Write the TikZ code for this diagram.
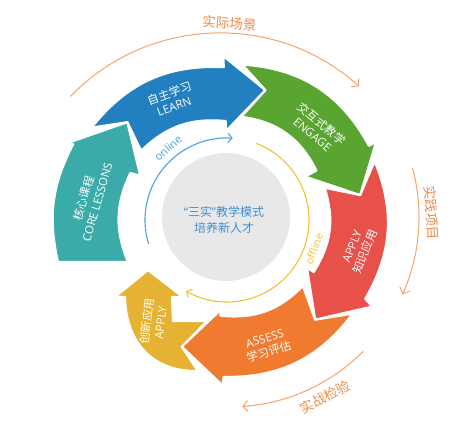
\documentclass[tikz,border=0pt]{standalone}
\usepackage{fontspec}
\setmainfont{Noto Sans CJK SC}
\newfontfamily\latinfont{Open Sans}
\usetikzlibrary{arrows.meta}

\definecolor{coreteal}{HTML}{3AABA8}
\definecolor{learnblue}{HTML}{2380C0}
\definecolor{engagegreen}{HTML}{5AA532}
\definecolor{applyred}{HTML}{E8504A}
\definecolor{assessorange}{HTML}{F07B30}
\definecolor{applyyellow}{HTML}{E5B233}
\definecolor{hubgray}{HTML}{E8E8E8}
\definecolor{hubblue}{HTML}{3D8FD4}
\definecolor{scenearc}{HTML}{F4A46E}
\definecolor{scenetext}{HTML}{EE8A4A}
\definecolor{onlineblue}{HTML}{4AA3DF}
\definecolor{offlineyellow}{HTML}{F2C232}

\begin{document}
\begin{tikzpicture}[x=1pt,y=1pt,
        seg/.style={draw=white,line width=2.2pt,line join=round},
        segtext/.style={text=white,align=center,font=\fontsize{11.5}{14}\selectfont},
        ringarc/.style={line width=1.1pt,-{Straight Barb[length=4pt,width=9pt]}},
        outerarc/.style={scenearc,line width=1pt,-{Straight Barb[length=5pt,width=11pt]}},
        outertext/.style={text=scenetext,font=\fontsize{13.5}{16}\selectfont}]
    \useasboundingbox (-229,-204) rectangle (247,217);

    % ring, each head laid over the next tail
    \filldraw[fill=applyyellow,seg] (-104,-80) .. controls (-103,-127) and (-75,-155) .. (-31,-154)
        -- (-47,-130) -- (-22,-104) -- (-56,-104) -- (-57,-80) -- (-46,-80) -- (-81,-53) -- (-114,-80) -- cycle;
    \filldraw[fill=assessorange,seg] (-38:157) to[bend left=27] (-92:160) -- (-92:169) -- (-110:138)
        -- (-95:93) -- (-95:99) to[bend right=26] (-43:101) -- (-50:134) -- cycle;
    \filldraw[fill=applyred,seg] (21:156) to[bend left=26] (-31:159) -- (-32:169) -- (-50:134)
        -- (-33:93) -- (-33:101) to[bend right=25] (17:100) -- (9.5:133) -- cycle;
    \filldraw[fill=engagegreen,seg] (85:153) to[bend left=29] (27:157) -- (27:165) -- (9.5:133)
        -- (28:86) -- (28:99) to[bend right=28] (83:101) -- (74:132) -- cycle;
    \filldraw[fill=learnblue,seg] (147:164) to[bend left=27] (92:150) -- (92:161) -- (74:132)
        -- (92:86) -- (92:96) to[bend right=25] (143:110) -- (137:139) -- cycle;
    \filldraw[fill=coreteal,seg] (-171,-45) to[bend left=20] (155:172) -- (155.5:178) -- (137:139)
        -- (155:98) -- (156:108) to[bend right=24] (-101,-45) -- cycle;

    \node[segtext,rotate=20] (learn) at (116:131) {自主学习\\{\latinfont LEARN}};
    \node[segtext,rotate=-40] (engage) at (45:125) {交互式教学\\{\latinfont ENGAGE}};
    \node[segtext,rotate=68] (applyk) at (-14:134) {{\latinfont APPLY}\\知识应用};
    \node[segtext,rotate=17] (assess) at (-73.5:134) {{\latinfont ASSESS}\\学习评估};
    \node[segtext,rotate=83] (applyc) at (-76,-105) {创新应用\\{\latinfont APPLY}};
    \node[segtext,rotate=74] (core) at (173:140) {核心课程\\{\latinfont CORE LESSONS}};

    % centre
    \fill[hubgray] (-3,0) circle[radius=64];
    \node[text=hubblue,align=center,font=\fontsize{12}{16}\selectfont] (hub) at (-5,-3)
        {{\latinfont “}三实{\latinfont ”}教学模式\\培养新人才};

    \draw[ringarc,onlineblue] (-2,-3) ++(197:82) arc[start angle=197,end angle=86,radius=82];
    \draw[ringarc,offlineyellow] (-2,-3) ++(69:82) arc[start angle=69,end angle=-120,radius=82];
    \node[text=onlineblue,rotate=41,font=\latinfont\fontsize{11}{13}\selectfont] (online) at (-61,69) {online};
    \node[text=offlineyellow,rotate=70,font=\latinfont\fontsize{11}{13}\selectfont] (offline) at (85,-32) {offline};

    % outer arcs
    \draw[outerarc] (-9,-24) ++(136:208) arc[start angle=136,end angle=48,radius=208];
    \draw[outerarc] (15:190) arc[start angle=15,end angle=-24,radius=190];
    \draw[outerarc] (-45:190) arc[start angle=-45,end angle=-86,radius=190];
    \node[outertext,rotate=-4] (scene) at (0.5,193.5) {实际场景};
    \node[outertext,rotate=-86] (project) at (203,4) {实践项目};
    \node[outertext,rotate=28] (check) at (96,-180) {实战检验};
\end{tikzpicture}
\end{document}
